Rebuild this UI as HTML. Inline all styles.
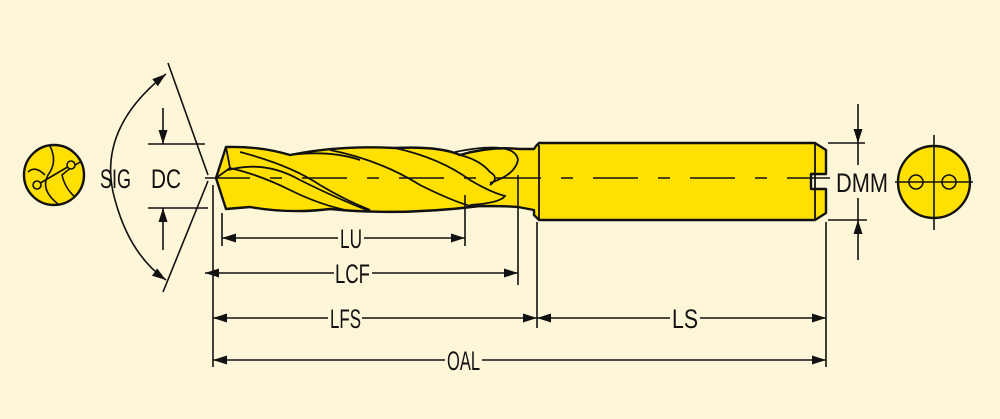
<!DOCTYPE html>
<html><head><meta charset="utf-8"><style>
html,body{margin:0;padding:0;background:#fef6d8;}
svg{display:block}
text{font-family:"Liberation Sans",sans-serif;font-size:27px;fill:#111;}
</style></head><body>
<svg width="1000" height="419" viewBox="0 0 1000 419" xmlns="http://www.w3.org/2000/svg">
<defs>
<marker id="a" viewBox="0 0 14 10" refX="14" refY="5" markerWidth="14" markerHeight="10" markerUnits="userSpaceOnUse" orient="auto-start-reverse"><path d="M0,0.5 L14,5 L0,9.5 z" fill="#111"/></marker>
</defs>
<rect width="1000" height="419" fill="#fef6d8"/>
<g stroke="#111" stroke-width="2.4" fill="#ffe000" stroke-linejoin="round">
<path d="M536,146 L539,143 L815,143 L826,150 L826,174 L811,174 L811,189 L826,189 L826,213 L815,220 L539,220 L534,215 L534,210 L518,207 Q505,206 480,206 Q400,216 330,209 Q290,214 250,207 L226,209 L216,178 L226,147 Q260,146 290,155 Q340,145 395,148 Q440,146 460,155 Q490,146 520,149 L534,149 Z"/>
</g>
<g stroke="#111" stroke-width="1.8" fill="none">
<line x1="539" y1="145" x2="539" y2="219"/>
<line x1="815" y1="144" x2="815" y2="219"/>
<path d="M226,147 L230,168 L216,178 M230,168 Q260,175 290,190 Q320,205 350,211"/>
<path d="M228,170 Q265,160 300,180 Q340,200 372,212"/>
<path d="M240,152 Q290,165 320,185 Q345,200 370,210"/>
<path d="M290,155 Q330,150 360,160"/>
<path d="M330,150 Q380,160 420,185 Q450,200 470,206"/>
<path d="M395,148 Q440,158 470,180 Q490,192 505,196 Q500,203 470,205"/>
<path d="M460,155 Q480,160 490,172 Q500,178 490,185"/>
<path d="M455,152 Q515,140 518,160 Q515,175 490,183"/>
</g>
<line x1="205" y1="178" x2="830" y2="178" stroke="#111" stroke-width="1.5" stroke-dasharray="45,20,12,20"/>
<g stroke="#111" stroke-width="1.6" fill="none">
<line x1="222" y1="213" x2="222" y2="246"/>
<line x1="465" y1="195" x2="465" y2="246"/>
<line x1="518" y1="175" x2="518" y2="285"/>
<line x1="213" y1="185" x2="213" y2="367"/>
<line x1="537" y1="222" x2="537" y2="328"/>
<line x1="826" y1="222" x2="826" y2="367"/>
<line x1="222" y1="238" x2="338" y2="238" marker-start="url(#a)"/><line x1="364" y1="238" x2="465" y2="238" marker-end="url(#a)"/>
<line x1="205" y1="273" x2="334" y2="273" marker-start="url(#a)"/><line x1="372" y1="273" x2="518" y2="273" marker-end="url(#a)"/>
<line x1="213" y1="318" x2="328" y2="318" marker-start="url(#a)"/><line x1="362" y1="318" x2="537" y2="318" marker-end="url(#a)"/>
<line x1="537" y1="318" x2="670" y2="318" marker-start="url(#a)"/><line x1="700" y1="318" x2="826" y2="318" marker-end="url(#a)"/>
<line x1="213" y1="360" x2="445" y2="360" marker-start="url(#a)"/><line x1="482" y1="360" x2="826" y2="360" marker-end="url(#a)"/>
<line x1="148" y1="144" x2="205" y2="144"/><line x1="148" y1="208" x2="208" y2="208"/>
<line x1="163" y1="108" x2="163" y2="144" marker-end="url(#a)"/>
<line x1="163" y1="250" x2="163" y2="208" marker-end="url(#a)"/>
<line x1="828" y1="143" x2="865" y2="143"/><line x1="828" y1="220" x2="867" y2="220"/>
<line x1="858" y1="104" x2="858" y2="143" marker-end="url(#a)"/>
<line x1="858" y1="260" x2="858" y2="220" marker-end="url(#a)"/>
<line x1="858" y1="143" x2="858" y2="165"/><line x1="858" y1="198" x2="858" y2="220"/>
<line x1="168" y1="63" x2="208" y2="175"/>
<line x1="208" y1="181" x2="163" y2="292"/>
<path d="M166,74 Q95,130 115,200 Q130,255 166,280" marker-start="url(#a)" marker-end="url(#a)"/>
</g>
<circle cx="54" cy="175" r="30" stroke="#111" stroke-width="2.4" fill="#ffe000"/>
<g stroke="#111" stroke-width="1.6" fill="none">
<path d="M50,146 Q58,162 48,175 Q40,190 58,204"/>
<path d="M28,172 Q35,165 45,175"/>
<path d="M80,162 Q70,168 62,175 Q65,188 74,196"/>
<line x1="37" y1="185" x2="71" y2="165"/>
<circle cx="37" cy="185" r="4" fill="#ffe000"/>
<circle cx="71" cy="165" r="4" fill="#ffe000"/>
</g>
<circle cx="934" cy="182" r="36" stroke="#111" stroke-width="2.4" fill="#ffe000"/>
<g stroke="#111" stroke-width="1.6" fill="none">
<line x1="895" y1="182" x2="973" y2="182"/>
<line x1="934" y1="135" x2="934" y2="230"/>
<circle cx="916" cy="182" r="7"/><circle cx="949" cy="182" r="7"/>
</g>
<text x="100" y="188" textLength="31" lengthAdjust="spacingAndGlyphs">SIG</text>
<text x="151" y="188" textLength="30" lengthAdjust="spacingAndGlyphs">DC</text>
<text x="836" y="192" textLength="52" lengthAdjust="spacingAndGlyphs">DMM</text>
<text x="340" y="248" textLength="22" lengthAdjust="spacingAndGlyphs">LU</text>
<text x="335" y="283" textLength="35" lengthAdjust="spacingAndGlyphs">LCF</text>
<text x="330" y="328" textLength="31" lengthAdjust="spacingAndGlyphs">LFS</text>
<text x="672" y="328" textLength="26" lengthAdjust="spacingAndGlyphs">LS</text>
<text x="447" y="370" textLength="33" lengthAdjust="spacingAndGlyphs">OAL</text>
</svg>
</body></html>
